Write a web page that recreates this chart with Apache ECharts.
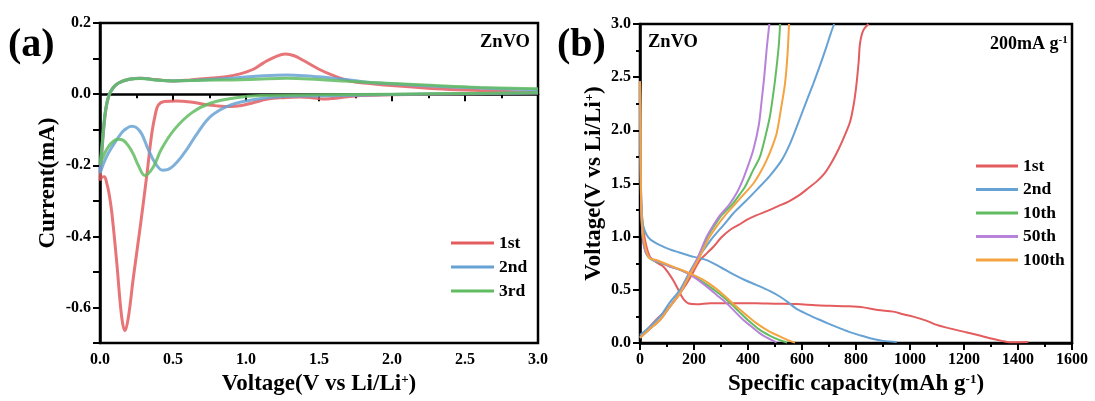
<!DOCTYPE html>
<html>
<head>
<meta charset="utf-8">
<script src="https://cdn.jsdelivr.net/npm/echarts@6/dist/echarts.min.js"></script>
<style>
    html, body { margin: 0; padding: 0; background: #fff; }
    #chart { width: 1095px; height: 401px; }
</style>
</head>
<body>
<div id="chart"></div>
<script>
/* ===========================
   Data : (a) CV curves [V, mA]
=========================== */

const cv1st = [
    [3.0, 0.003], [2.5, 0.001], [2.0, -0.002], [1.75, -0.005], [1.6, -0.012], [1.53, -0.014],
    [1.45, -0.01], [1.37, -0.008], [1.25, -0.01], [1.15, -0.014], [1.05, -0.024], [0.97, -0.032],
    [0.89, -0.035], [0.8, -0.033], [0.72, -0.029], [0.62, -0.022], [0.52, -0.019], [0.44, -0.021],
    [0.4, -0.03], [0.38, -0.055], [0.355, -0.11], [0.32, -0.23], [0.274, -0.378], [0.228, -0.517],
    [0.194, -0.628], [0.171, -0.665], [0.149, -0.628], [0.114, -0.47], [0.08, -0.33], [0.06, -0.275],
    [0.046, -0.25], [0.03, -0.232], [0.015, -0.233], [0.0, -0.243],
    [0.012, -0.17], [0.025, -0.1], [0.04, -0.045], [0.06, -0.005], [0.09, 0.018], [0.13, 0.032],
    [0.2, 0.042], [0.28, 0.045], [0.38, 0.041], [0.5, 0.037], [0.62, 0.04], [0.73, 0.044],
    [0.85, 0.048], [0.96, 0.057], [1.05, 0.07], [1.12, 0.088], [1.2, 0.105], [1.27, 0.113],
    [1.33, 0.108], [1.4, 0.093], [1.5, 0.07], [1.6, 0.052], [1.72, 0.036], [1.85, 0.03],
    [2.0, 0.024], [2.3, 0.015], [2.6, 0.01], [3.0, 0.004]
];

const cv2nd = [
    [3.0, 0.003], [2.5, 0.001], [2.0, -0.001], [1.5, -0.005], [1.2, -0.008], [1.02, -0.018],
    [0.88, -0.033], [0.76, -0.062], [0.67, -0.108], [0.58, -0.164], [0.49, -0.206], [0.43, -0.214],
    [0.38, -0.195], [0.33, -0.155], [0.286, -0.112], [0.25, -0.094], [0.217, -0.09], [0.18, -0.097],
    [0.149, -0.108], [0.08, -0.15], [0.04, -0.18], [0.0, -0.222],
    [0.012, -0.16], [0.025, -0.095], [0.04, -0.04], [0.06, -0.005], [0.09, 0.018], [0.13, 0.032],
    [0.2, 0.042], [0.28, 0.045], [0.38, 0.04], [0.5, 0.037], [0.65, 0.039], [0.85, 0.043],
    [1.07, 0.05], [1.28, 0.054], [1.45, 0.05], [1.6, 0.045], [1.8, 0.035], [2.0, 0.029],
    [2.3, 0.022], [2.6, 0.017], [3.0, 0.012]
];

const cv3rd = [
    [3.0, 0.004], [2.5, 0.002], [2.0, 0.0], [1.5, -0.002], [1.1, -0.004], [0.92, -0.011],
    [0.76, -0.025], [0.63, -0.052], [0.51, -0.099], [0.42, -0.155], [0.365, -0.205], [0.308, -0.229],
    [0.262, -0.2], [0.23, -0.17], [0.194, -0.145], [0.16, -0.13], [0.125, -0.127], [0.09, -0.133],
    [0.057, -0.148], [0.03, -0.168], [0.0, -0.198],
    [0.012, -0.15], [0.025, -0.09], [0.04, -0.04], [0.06, -0.005], [0.09, 0.018], [0.13, 0.032],
    [0.2, 0.042], [0.28, 0.044], [0.38, 0.04], [0.5, 0.037], [0.7, 0.039], [0.9, 0.04],
    [1.07, 0.042], [1.28, 0.045], [1.5, 0.041], [1.7, 0.036], [2.0, 0.03], [2.3, 0.024],
    [2.6, 0.019], [3.0, 0.015]
];

/* ===========================
   Data : (b) charge / discharge [mAh g-1, V]
=========================== */

const dis1st = [
    [0, 2.46], [2, 2.0], [3, 1.6], [5, 1.3], [10, 1.12], [20, 0.95], [37, 0.81], [60, 0.76],
    [86, 0.72], [105, 0.66], [123, 0.59], [138, 0.52], [150, 0.46], [165, 0.4], [180, 0.372],
    [210, 0.365], [260, 0.375], [333, 0.375], [430, 0.374], [500, 0.37], [580, 0.367], [650, 0.355],
    [704, 0.35], [770, 0.345], [827, 0.335], [880, 0.31], [938, 0.295], [975, 0.27], [1012, 0.248],
    [1060, 0.21], [1099, 0.17], [1150, 0.135], [1197, 0.107], [1250, 0.075], [1296, 0.044],
    [1340, 0.02], [1370, 0.008], [1438, 0.01]
];
const chg1st = [
    [0, 0.06], [25, 0.122], [60, 0.22], [99, 0.31], [140, 0.44], [173, 0.56], [200, 0.68],
    [222, 0.78], [250, 0.85], [272, 0.905], [300, 0.99], [333, 1.063], [365, 1.11], [395, 1.157],
    [430, 1.2], [470, 1.24], [510, 1.285], [550, 1.33], [590, 1.39], [625, 1.46], [655, 1.52],
    [685, 1.6], [710, 1.7], [735, 1.82], [758, 1.95], [778, 2.08], [792, 2.25], [802, 2.44],
    [810, 2.65], [815, 2.82], [827, 2.94], [846, 3.0]
];

const dis2nd = [
    [0, 2.46], [2, 2.0], [3, 1.6], [6, 1.25], [12, 1.1], [25, 1.016], [40, 0.97], [74, 0.92],
    [110, 0.88], [160, 0.84], [200, 0.81], [247, 0.78], [300, 0.71], [346, 0.645], [390, 0.59],
    [432, 0.545], [480, 0.49], [519, 0.435], [550, 0.38], [580, 0.32], [620, 0.27], [667, 0.216],
    [700, 0.18], [741, 0.138], [780, 0.1], [815, 0.072], [860, 0.04], [900, 0.02], [951, 0.01]
];
const chg2nd = [
    [0, 0.075], [40, 0.16], [74, 0.247], [110, 0.38], [148, 0.5], [180, 0.65], [210, 0.78],
    [240, 0.89], [272, 1.0], [310, 1.11], [346, 1.22], [390, 1.33], [432, 1.44], [480, 1.57],
    [525, 1.72], [555, 1.87], [580, 2.03], [610, 2.23], [642, 2.44], [668, 2.62], [691, 2.79],
    [705, 2.9], [719, 3.0]
];

const dis10th = [
    [0, 2.46], [2, 2.0], [3, 1.5], [6, 1.15], [12, 0.95], [20, 0.86], [30, 0.81], [50, 0.775],
    [74, 0.755], [110, 0.72], [150, 0.685], [200, 0.625], [250, 0.545], [290, 0.47], [330, 0.385],
    [365, 0.3], [400, 0.215], [440, 0.13], [480, 0.07], [515, 0.03], [545, 0.005]
];
const chg10th = [
    [0, 0.05], [40, 0.14], [74, 0.216], [110, 0.34], [148, 0.467], [180, 0.63], [210, 0.78],
    [232, 0.9], [250, 1.0], [275, 1.1], [302, 1.2], [340, 1.3], [370, 1.4], [389, 1.47],
    [420, 1.63], [444, 1.75], [465, 1.95], [481, 2.13], [495, 2.37], [506, 2.6], [514, 2.8],
    [519, 3.0]
];

const dis50th = [
    [0, 2.46], [2, 2.0], [3, 1.5], [6, 1.15], [12, 0.95], [20, 0.86], [30, 0.82], [50, 0.78],
    [74, 0.76], [110, 0.72], [148, 0.69], [200, 0.62], [247, 0.53], [285, 0.45], [321, 0.373],
    [350, 0.3], [383, 0.216], [410, 0.16], [444, 0.091], [470, 0.05], [506, 0.005]
];
const chg50th = [
    [0, 0.05], [40, 0.14], [74, 0.216], [110, 0.34], [148, 0.467], [180, 0.63], [210, 0.78],
    [230, 0.9], [247, 1.0], [270, 1.1], [296, 1.2], [330, 1.3], [358, 1.41], [380, 1.53],
    [395, 1.63], [420, 1.82], [440, 2.05], [451, 2.29], [460, 2.5], [469, 2.76], [479, 3.0]
];

const dis100th = [
    [0, 2.46], [2, 2.0], [3, 1.55], [6, 1.2], [12, 1.0], [22, 0.88], [35, 0.8], [60, 0.78],
    [90, 0.75], [140, 0.7], [185, 0.655], [230, 0.6], [272, 0.53], [315, 0.44], [358, 0.34],
    [395, 0.26], [432, 0.185], [475, 0.115], [519, 0.06], [550, 0.025], [574, 0.005]
];
const chg100th = [
    [0, 0.05], [40, 0.14], [74, 0.216], [110, 0.34], [148, 0.467], [182, 0.63], [215, 0.78],
    [238, 0.9], [258, 1.0], [285, 1.1], [315, 1.2], [350, 1.3], [385, 1.4], [420, 1.5],
    [445, 1.6], [469, 1.72], [490, 1.85], [506, 1.97], [522, 2.2], [537, 2.44], [546, 2.7],
    [552, 3.0]
];

const cvNames = ["1st", "2nd", "3rd"];
const gcdNames = ["1st", "2nd", "10th", "50th", "100th"];

const RED = "#e35d5f";
const BLUE = "#67a2d4";
const GREEN = "#62bc62";
const PURPLE = "#b783da";
const ORANGE = "#f4a340";

const FONT = "Liberation Serif";

/* ===========================
   Helpers
=========================== */

function baseText(size) {
    return {
        fontFamily: FONT,
        fontWeight: "bold",
        fontSize: size,
        color: "#000"
    };
}

function axisCommon() {
    return {
        axisLine: { show: true, lineStyle: { color: "#000", width: 2.5 } },
        axisTick: { show: true, length: 7, lineStyle: { color: "#000", width: 2 } },
        minorTick: { show: true, splitNumber: 2, length: 4, lineStyle: { color: "#000", width: 2 } },
        splitLine: { show: false },
        nameLocation: "middle",
        nameTextStyle: Object.assign(baseText(23), {
            rich: {
                sup: { fontFamily: FONT, fontWeight: "bold", fontSize: 13, color: "#000", verticalAlign: "top" }
            }
        })
    };
}

function cvSeries(name, data, color) {
    return {
        name: name,
        type: "line",
        xAxisIndex: 0,
        yAxisIndex: 0,
        data: data,
        smooth: 0.4,
        showSymbol: false,
        symbol: "none",
        lineStyle: { width: 3, color: color, opacity: 0.85 },
        itemStyle: { color: color }
    };
}

function gcdSeries(name, data, color) {
    return {
        name: name,
        type: "line",
        xAxisIndex: 1,
        yAxisIndex: 1,
        data: data,
        smooth: 0.3,
        showSymbol: false,
        symbol: "none",
        lineStyle: { width: 2, color: color },
        itemStyle: { color: color }
    };
}

/* ===========================
   Chart
=========================== */

const chart = echarts.init(document.getElementById("chart"));

chart.setOption({

    animation: false,
    backgroundColor: "#fff",

    grid: [
        { left: 100, top: 23, width: 438, height: 323, show: true, borderColor: "#000", borderWidth: 2.5 },
        { left: 640, top: 24, width: 432, height: 319, show: true, borderColor: "#000", borderWidth: 2.5 }
    ],

    xAxis: [
        Object.assign(axisCommon(), {
            type: "value", gridIndex: 0, min: 0, max: 3, interval: 0.5,
            name: "Voltage(V vs Li/Li{sup|+})", nameGap: 26,
            axisLabel: Object.assign(baseText(16), { margin: 9, formatter: v => v.toFixed(1) })
        }),
        Object.assign(axisCommon(), {
            type: "value", gridIndex: 1, min: 0, max: 1600, interval: 200,
            name: "Specific capacity(mAh g{sup|-1})", nameGap: 26,
            axisLabel: Object.assign(baseText(16), { margin: 9, formatter: v => String(v) })
        })
    ],

    yAxis: [
        Object.assign(axisCommon(), {
            type: "value", gridIndex: 0, min: -0.7, max: 0.2, interval: 0.1,
            name: "Current(mA)", nameGap: 40, minorTick: { show: false },
            axisLabel: Object.assign(baseText(16), {
                margin: 9,
                formatter: v => (Math.round(v * 10) % 2 === 0 ? v.toFixed(1) : "")
            })
        }),
        Object.assign(axisCommon(), {
            type: "value", gridIndex: 1, min: 0, max: 3, interval: 0.5,
            name: "Voltage(V vs Li/Li{sup|+})", nameGap: 34,
            axisLabel: Object.assign(baseText(16), { margin: 9, formatter: v => v.toFixed(1) })
        })
    ],

    legend: [
        {
            data: cvNames, orient: "vertical", left: 446, top: 229,
            icon: "rect", itemWidth: 43, itemHeight: 3, itemGap: 6,
            textStyle: baseText(17.5)
        },
        {
            data: gcdNames, orient: "vertical", left: 971, top: 152,
            icon: "rect", itemWidth: 42, itemHeight: 3, itemGap: 5.5,
            textStyle: baseText(17.5)
        }
    ],

    graphic: [
        { type: "text", left: 8, top: 26, style: Object.assign(baseText(40), { text: "(a)" }) },
        { type: "text", left: 557, top: 26, style: Object.assign(baseText(40), { text: "(b)" }) },
        { type: "text", left: 480, top: 33, style: Object.assign(baseText(18.5), { text: "ZnVO" }) },
        { type: "text", left: 648, top: 33, style: Object.assign(baseText(18.5), { text: "ZnVO" }) },
        {
            type: "text", left: 990, top: 35,
            style: Object.assign(baseText(18), {
                text: "200mA g{sup|-1}",
                rich: { sup: { fontFamily: FONT, fontWeight: "bold", fontSize: 11, color: "#000", verticalAlign: "top" } }
            })
        }
    ],

    series: [
        cvSeries("1st", cv1st, RED),
        cvSeries("2nd", cv2nd, BLUE),
        cvSeries("3rd", cv3rd, GREEN),

        gcdSeries("1st", dis1st, RED),
        gcdSeries("1st", chg1st, RED),
        gcdSeries("2nd", dis2nd, BLUE),
        gcdSeries("2nd", chg2nd, BLUE),
        gcdSeries("10th", dis10th, GREEN),
        gcdSeries("10th", chg10th, GREEN),
        gcdSeries("50th", dis50th, PURPLE),
        gcdSeries("50th", chg50th, PURPLE),
        gcdSeries("100th", dis100th, ORANGE),
        gcdSeries("100th", chg100th, ORANGE)
    ]

});
</script>
</body>
</html>
